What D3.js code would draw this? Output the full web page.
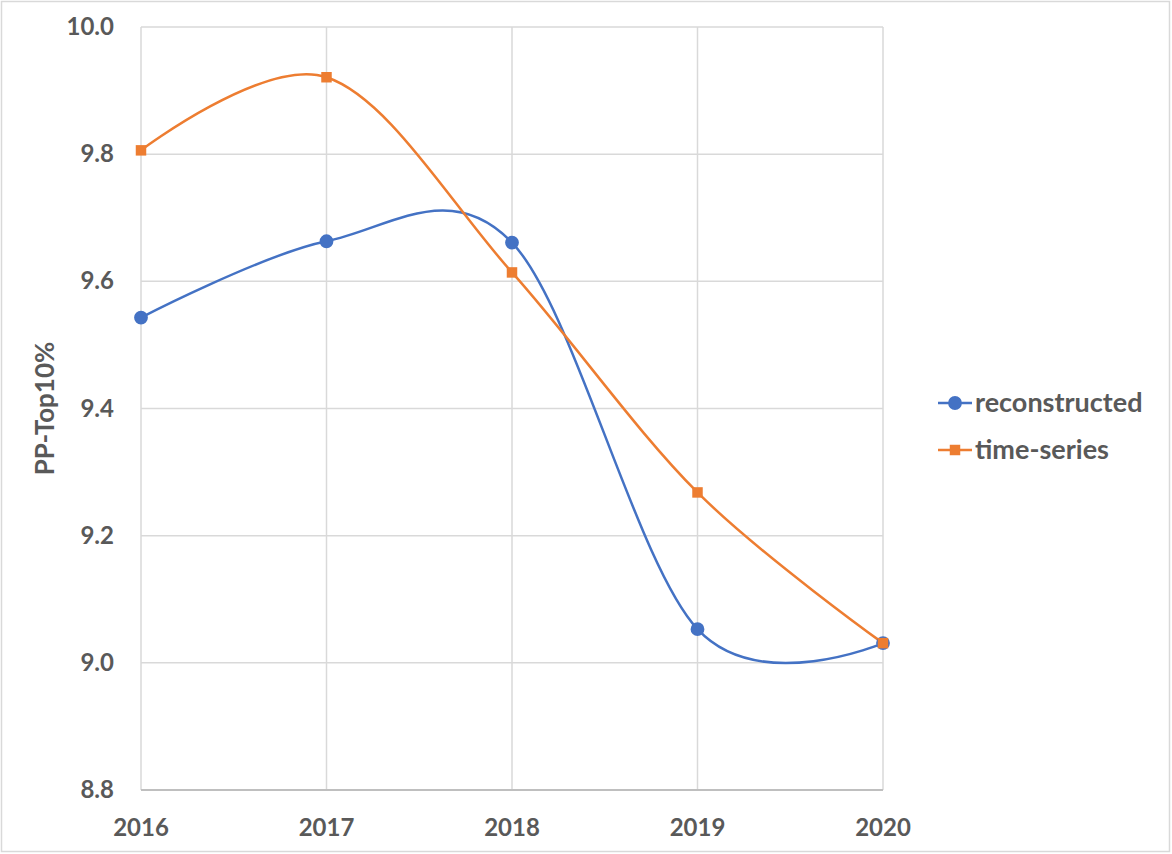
<!DOCTYPE html>
<html>
<head>
<meta charset="utf-8">
<script src="https://cdn.jsdelivr.net/npm/d3@7"></script>
<style>
  body { margin: 0; background: #fff; }
  svg text { font-family: Lato, "Open Sans", sans-serif; font-weight: bold; fill: #595959; }
</style>
</head>
<body>
<div id="chart"></div>
<script>
// data
const years = [2016, 2017, 2018, 2019, 2020];
const reconstructed = [9.543, 9.663, 9.661, 9.053, 9.031];
const timeSeries = [9.806, 9.921, 9.614, 9.268, 9.031];
const yTicks = [8.8, 9.0, 9.2, 9.4, 9.6, 9.8, 10.0];
const seriesNames = ["reconstructed", "time-series"];
const seriesColors = ["#4472c4", "#ed7d31"];

const W = 1172, H = 854;
const plot = { left: 141, right: 883, top: 27, bottom: 790 };

const svg = d3.select("#chart").append("svg")
    .attr("width", W).attr("height", H);

// outer frame
svg.append("rect")
    .attr("x", 1.5).attr("y", 1.5)
    .attr("width", W - 4).attr("height", H - 4)
    .attr("fill", "#fff").attr("stroke", "#d9d9d9").attr("stroke-width", 1.5);

const x = d3.scalePoint().domain(years).range([plot.left, plot.right]);
const y = d3.scaleLinear().domain([8.8, 10.0]).range([plot.bottom, plot.top]);

// grid
svg.append("g")
    .selectAll("line.h").data(yTicks.slice(1)).enter().append("line")
    .attr("x1", plot.left).attr("x2", plot.right)
    .attr("y1", d => y(d)).attr("y2", d => y(d))
    .attr("stroke", "#d9d9d9").attr("stroke-width", 1.5);

svg.append("g")
    .selectAll("line.v").data(years).enter().append("line")
    .attr("x1", d => x(d)).attr("x2", d => x(d))
    .attr("y1", plot.top).attr("y2", plot.bottom)
    .attr("stroke", "#d9d9d9").attr("stroke-width", 1.5);

// x axis line
svg.append("line")
    .attr("x1", plot.left).attr("x2", plot.right)
    .attr("y1", plot.bottom).attr("y2", plot.bottom)
    .attr("stroke", "#bfbfbf").attr("stroke-width", 2);

// tick labels
svg.append("g").selectAll("text").data(yTicks).enter().append("text")
    .attr("x", 114).attr("y", d => y(d) + 8)
    .attr("text-anchor", "end").style("font-size", "24px")
    .text(d => d.toFixed(1));

svg.append("g").selectAll("text").data(years).enter().append("text")
    .attr("x", d => x(d)).attr("y", 836)
    .attr("text-anchor", "middle").style("font-size", "24px")
    .text(d => d);

svg.append("text")
    .attr("transform", `translate(54, ${(plot.top + plot.bottom) / 2}) rotate(-90)`)
    .attr("text-anchor", "middle").style("font-size", "26px")
    .text("PP-Top10%");

// lines
const line = d3.line()
    .x((d, i) => x(years[i]))
    .y(d => y(d))
    .curve(d3.curveCardinal.tension(0));

const allSeries = [reconstructed, timeSeries];

allSeries.forEach((vals, k) => {
    svg.append("path")
        .attr("d", line(vals))
        .attr("fill", "none")
        .attr("stroke", seriesColors[k])
        .attr("stroke-width", 2.5);
});

// markers
const sym = [d3.symbolCircle, d3.symbolSquare];
const symSize = [150, 110];
allSeries.forEach((vals, k) => {
    svg.append("g").selectAll("path").data(vals).enter().append("path")
        .attr("transform", (d, i) => `translate(${x(years[i])}, ${y(d)})`)
        .attr("d", d3.symbol().type(sym[k]).size(symSize[k])())
        .attr("fill", seriesColors[k]);
});

// legend
const legend = svg.append("g").attr("transform", "translate(938, 403)");
seriesNames.forEach((name, k) => {
    const row = legend.append("g").attr("transform", `translate(0, ${k * 47})`);
    row.append("line").attr("x1", 0).attr("x2", 34).attr("y1", 0).attr("y2", 0)
        .attr("stroke", seriesColors[k]).attr("stroke-width", 2.5);
    row.append("path")
        .attr("transform", "translate(17,0)")
        .attr("d", d3.symbol().type(sym[k]).size(symSize[k])())
        .attr("fill", seriesColors[k]);
    row.append("text").attr("x", 37).attr("y", 9)
        .style("font-size", "27px").text(name);
});
</script>
</body>
</html>
